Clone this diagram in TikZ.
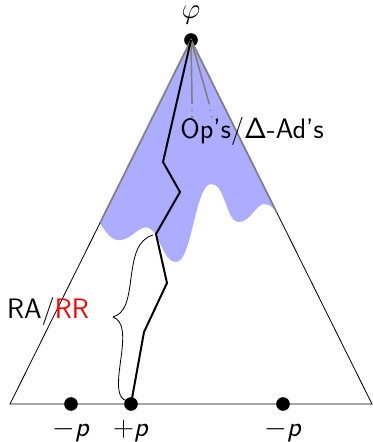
\documentclass[tikz,border=0pt]{standalone}
\usepackage{amsmath}
\usepackage{tikz}
\usetikzlibrary{calc}
\tikzstyle{vertex} = [circle, fill=black, inner sep=0pt, minimum size=0.41cm]
\tikzstyle{tag} = [font=\sffamily\fontsize{24}{28}\selectfont, inner sep=1pt]
\tikzstyle{side} = [line width=0.7pt]
\tikzstyle{grayside} = [gray, line width=1.5pt]
\tikzstyle{region} = [fill=blue!32, draw=none]
\tikzstyle{opline} = [gray, line width=1.4pt]
\tikzstyle{opdots} = [gray, line width=1.1pt, dash pattern=on 1.2pt off 4.5pt]
\tikzstyle{trail} = [line width=1.7pt, line join=miter]
\tikzstyle{bracket} = [line width=0.7pt]

\begin{document}
\begin{tikzpicture}[x=0.03cm, y=-0.03cm]
        \useasboundingbox (0,0) rectangle (373,442);

        % Nodes
        \node (phi) [vertex] at (191,40) {};
        \node (mleft) [vertex] at (71,404) {};
        \node (pplus) [vertex] at (131,404) {};
        \node (mright) [vertex] at (283,404) {};
        \coordinate (bl) at (10,404);
        \coordinate (br) at (372,404);
        \coordinate (lt) at ($(phi.center)!0.503!(bl)$);
        \coordinate (rt) at ($(phi.center)!0.475!(br)$);
        \coordinate (o1) at (192,103);
        \coordinate (o2) at (209,103);
        \coordinate (btop) at (153,235);
        \coordinate (btip) at (113,317);
        \coordinate (bbot) at (127,401);

        % Shaded part
        \fill [region] (phi.center) -- (lt)
            .. controls (108,236) and (113,241) .. (121,240)
            .. controls (132,239) and (140,224) .. (149,228)
            .. controls (160,233) and (163,262) .. (176,262)
            .. controls (192,262) and (195,185) .. (211,184)
            .. controls (225,183) and (226,221) .. (238,222)
            .. controls (250,223) and (256,204) .. (264,204)
            .. controls (271,204) and (275,210) .. (rt) -- cycle;

        % Triangle
        \draw [grayside] (lt) -- (phi.center) -- (rt);
        \draw [side] (lt) -- (bl) -- (br) -- (rt);

        % Op lines
        \draw [opline] (phi.center) -- (o1);
        \draw [opline] (phi.center) -- (o2);
        \draw [opdots] (o1) -- ++(0,15);
        \draw [opdots] (o2) -- ++(3,15);

        % Path
        \draw [trail] (phi.center) -- (163,162) -- (180,192) -- (156,234)
            -- (167,283) -- (144,332) -- (pplus.center);

        % Brace
        \draw [bracket] (btop) .. controls (137,240) and (134,256) .. (131,278)
            .. controls (128,302) and (125,313) .. (btip);
        \draw [bracket] (btip) .. controls (124,321) and (124,336) .. (121,358)
            .. controls (117,386) and (117,398) .. (bbot);

        % Labels
        \node [tag, inner sep=0pt] at (191,15) {$\varphi$};
        \node [tag] at (252,131) {Op's/$\mathsf{\Delta}$-Ad's};
        \node [tag] at (48,311) {RA/\textcolor{red}{RR}};
        \node [tag] at (71,431) {$-$\textit{p}};
        \node [tag] at (131,431) {$+$\textit{p}};
        \node [tag] at (283,431) {$-$\textit{p}};
\end{tikzpicture}
\end{document}
